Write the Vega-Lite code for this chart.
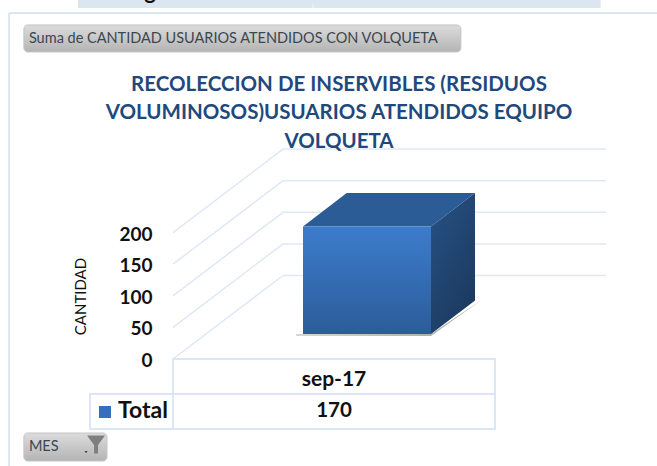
{
"$schema":"https://vega.github.io/schema/vega-lite/v6.json",
"width":484,"height":466,
"autosize":"none",
"padding":{"left":173,"top":0,"right":0,"bottom":0},
"background":"white",
"config":{"view":{"stroke":null},"text":{"font":"Lato"}},
"title":{"text":["RECOLECCION DE INSERVIBLES (RESIDUOS","VOLUMINOSOS)USUARIOS ATENDIDOS EQUIPO","VOLQUETA"],"frame":"group","anchor":"middle","baseline":"top","offset":0,"dx":-76,"dy":171,"lineHeight":28.5,"font":"Lato","fontSize":20.5,"fontWeight":"bold","color":"#1f497d"},
"datasets":{
"serie":[{"mes":"sep-17","cantidad":170,"serie":"Total"}],
"marcas":[{"valor":0},{"valor":50},{"valor":100},{"valor":150},{"valor":200}],
"tabla":[{"x":0,"x2":100,"y":0,"y2":-55.4},{"x":0,"x2":100,"y":-55.4,"y2":-110.8},{"x":-25.78,"x2":0,"y":-55.4,"y2":-110.8}],
"marco":[{"x":-50.9,"x2":-50.9,"y":547.5,"y2":-169.3},{"x":-50.9,"x2":150.3,"y":547.5,"y2":547.5}],
"sombra":[{"x":38.2,"tope":38.8,"base":37.2},{"x":80.12,"tope":39.6,"base":36.4},{"x":96.27,"tope":94.9,"base":94.9}],
"superior":[{"x":40.37,"tope":170,"base":170},{"x":53.94,"tope":222.9,"base":170},{"x":80.12,"tope":222.9,"base":170},{"x":93.79,"tope":222.9,"base":222.9}],
"lateral":[{"x":80.12,"tope":170,"base":0},{"x":93.79,"tope":222.9,"base":52.9}],
"botones":[{"x":-46.3,"x2":89.4,"y":528.5,"y2":485.8,"texto":"Suma de CANTIDAD USUARIOS ATENDIDOS CON VOLQUETA","ty":506.3},{"x":-46.3,"x2":-20.5,"y":-117.1,"y2":-161.4,"texto":"MES","ty":-139.2}]
},
"layer":[
{"data":{"name":"marcas"},"mark":{"type":"rule","stroke":"#dfe8f6","strokeWidth":1.5,"x2Offset":0,"y2Offset":-83.5},
 "encoding":{"x":{"datum":0,"type":"quantitative","scale":{"domain":[0,150.3],"nice":false,"zero":false},"axis":null},"x2":{"datum":34.16},"y":{"field":"valor","type":"quantitative","scale":{"domain":[-169.3,568],"nice":false,"zero":false},"axis":{"values":[0,50,100,150,200],"domain":false,"ticks":false,"grid":false,"labelFont":"Lato","labelFontWeight":"bold","labelFontSize":19,"labelColor":"#111111","labelPadding":21,"labelOffset":1.5,"labelOverlap":false,"labelBound":false,"labelFlush":false,"title":"CANTIDAD","titleFont":"Lato","titleFontSize":15,"titleFontWeight":"normal","titleColor":"#111111","titleX":-93,"titleY":296,"titleAngle":-90,"titleAlign":"center","titleBaseline":"middle"}},"y2":{"field":"valor"}}},
{"data":{"values":[{"x":-29.5,"x2":132.8,"y":569,"y2":555.3}]},"mark":{"type":"rect","fill":"#dce6f1"},
 "encoding":{"x":{"field":"x","type":"quantitative","axis":null},"x2":{"field":"x2"},"y":{"field":"y","type":"quantitative"},"y2":{"field":"y2"}}},
{"data":{"values":[{"x":43.5,"y":561,"y2":555.3}]},"mark":{"type":"rule","stroke":"#f2f5fa","strokeWidth":1},
 "encoding":{"x":{"field":"x","type":"quantitative","axis":null},"y":{"field":"y","type":"quantitative"},"y2":{"field":"y2"}}},
{"data":{"values":[{"x":-7.1,"y":569.5,"t":"g"}]},"mark":{"type":"text","fontSize":22,"fontWeight":"bold","color":"#111","baseline":"alphabetic"},
 "encoding":{"x":{"field":"x","type":"quantitative","axis":null},"y":{"field":"y","type":"quantitative"},"text":{"field":"t"}}},
{"data":{"name":"marco"},"mark":{"type":"rule","stroke":"#dce6f2","strokeWidth":2},
 "encoding":{"x":{"field":"x","type":"quantitative","axis":null},"x2":{"field":"x2"},"y":{"field":"y","type":"quantitative"},"y2":{"field":"y2"}}},
{"data":{"name":"marcas"},"mark":{"type":"rule","stroke":"#dfe8f6","strokeWidth":1.5,"yOffset":-83.5},
 "encoding":{"x":{"datum":34.16,"type":"quantitative","axis":null},"x2":{"datum":134.47},"y":{"field":"valor","type":"quantitative"}}},
{"data":{"name":"sombra"},"mark":{"type":"area","fill":"#9c9c9c","opacity":0.8},
 "encoding":{"x":{"field":"x","type":"quantitative","axis":null},"y":{"field":"tope","type":"quantitative"},"y2":{"field":"base"}}},
{"data":{"name":"superior"},"mark":{"type":"area","fill":"#2c5c96","yOffset":-25,"y2Offset":-25},
 "encoding":{"x":{"field":"x","type":"quantitative","axis":null},"y":{"field":"tope","type":"quantitative"},"y2":{"field":"base"}}},
{"data":{"name":"lateral"},"mark":{"type":"area","yOffset":-25,"y2Offset":-25,"fill":{"x1":0,"y1":0,"x2":0.6,"y2":1,"gradient":"linear","stops":[{"offset":0,"color":"#275285"},{"offset":1,"color":"#1b3a60"}]}},
 "encoding":{"x":{"field":"x","type":"quantitative","axis":null},"y":{"field":"tope","type":"quantitative"},"y2":{"field":"base"}}},
{"data":{"name":"serie"},"mark":{"type":"rect","yOffset":-25,"y2Offset":-25,"fill":{"x1":0,"y1":0,"x2":0,"y2":1,"gradient":"linear","stops":[{"offset":0,"color":"#3c7ccc"},{"offset":1,"color":"#2c5c9a"}]}},
 "encoding":{"x":{"datum":40.37,"type":"quantitative","axis":null},"x2":{"datum":80.12},"y":{"field":"cantidad","type":"quantitative"},"y2":{"datum":0}}},
{"data":{"name":"tabla"},"mark":{"type":"rect","fill":"white","stroke":"#dce6f5","strokeWidth":2},
 "encoding":{"x":{"field":"x","type":"quantitative","axis":null},"x2":{"field":"x2"},"y":{"field":"y","type":"quantitative"},"y2":{"field":"y2"}}},
{"data":{"name":"serie"},"mark":{"type":"text","fontSize":21,"fontWeight":"bold","color":"#111111"},
 "encoding":{"x":{"datum":50,"type":"quantitative","axis":null},"y":{"datum":-33.2,"type":"quantitative"},"text":{"field":"mes"}}},
{"data":{"name":"serie"},"mark":{"type":"text","fontSize":20.5,"fontWeight":"bold","color":"#111111"},
 "encoding":{"x":{"datum":50,"type":"quantitative","axis":null},"y":{"datum":-82.3,"type":"quantitative"},"text":{"field":"cantidad"}}},
{"data":{"name":"serie"},"mark":{"type":"text","fontSize":23,"fontWeight":"bold","color":"#111111","align":"left"},
 "encoding":{"x":{"datum":-17.08,"type":"quantitative","axis":null},"y":{"datum":-82.3,"type":"quantitative"},"text":{"field":"serie"}}},
{"data":{"name":"serie"},"mark":{"type":"rect","fill":"#336fbe"},
 "encoding":{"x":{"datum":-22.98,"type":"quantitative","axis":null},"x2":{"datum":-19.25},"y":{"datum":-74.4,"type":"quantitative"},"y2":{"datum":-93.4}}},
{"data":{"name":"botones"},"mark":{"type":"rect","cornerRadius":4,"stroke":"#c4c4c4","strokeWidth":1,"fill":{"x1":0,"y1":0,"x2":0,"y2":1,"gradient":"linear","stops":[{"offset":0,"color":"#dcdcdc"},{"offset":1,"color":"#b4b4b4"}]}},
 "encoding":{"x":{"field":"x","type":"quantitative","axis":null},"x2":{"field":"x2"},"y":{"field":"y","type":"quantitative"},"y2":{"field":"y2"}}},
{"data":{"name":"botones"},"mark":{"type":"text","align":"left","fontSize":14.5,"color":"#3c4650","dx":5},
 "encoding":{"x":{"field":"x","type":"quantitative","axis":null},"y":{"field":"ty","type":"quantitative"},"text":{"field":"texto"}}},
{"data":{"values":[{"x":-23.9,"y":-135.3}]},"mark":{"type":"point","filled":true,"fill":"#7f7f7f","opacity":1,"size":324,"shape":"M-1,-1 L1,-1 L0.22,0.05 L0.22,1 L-0.22,1 L-0.22,0.05 Z"},
 "encoding":{"x":{"field":"x","type":"quantitative","axis":null},"y":{"field":"y","type":"quantitative"}}},
{"data":{"values":[{"x":-27,"y":-147}]},"mark":{"type":"point","filled":true,"fill":"#444444","opacity":1,"size":10,"shape":"M-1,-0.6 L1,-0.6 L0,0.8 Z"},
 "encoding":{"x":{"field":"x","type":"quantitative","axis":null},"y":{"field":"y","type":"quantitative"}}}
]
}
